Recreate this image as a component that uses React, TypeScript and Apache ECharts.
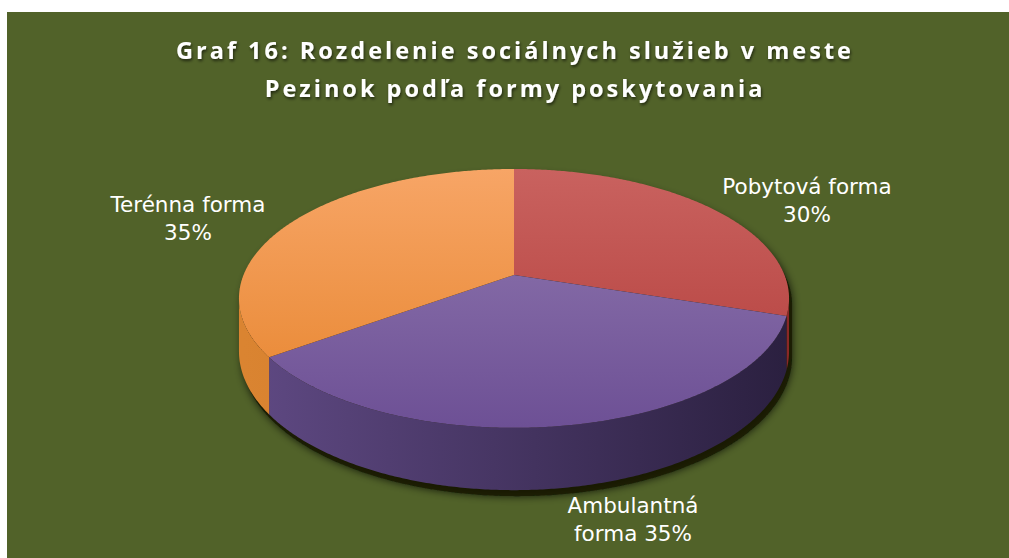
import React, { useEffect, useRef } from "react";
import * as echarts from "echarts";

// ---- data ----
const categories = ["Pobytová forma", "Ambulantná forma", "Terénna forma"];
const values = [30, 35, 35];
const labelLines = [
  ["Pobytová forma", "{p}%"],
  ["Ambulantná", "forma {p}%"],
  ["Terénna forma", "{p}%"],
];
const titleLines = [
  "Graf 16: Rozdelenie sociálnych služieb v meste",
  "Pezinok podľa formy poskytovania",
];

// ---- layout / style ----
const W = 1009;
const H = 558;
const BG = "#516229";
const CX = 514;
const CY = 275;
const RX = 270.5;
const RY = 125.2;
const P = 0.181;
const DEPTH = 51;
const topColors = [
  ["#C9625F", "#B23C39"],
  ["#9179B0", "#6D5095"],
  ["#F7A566", "#E6842C"],
];
const sideColors = [
  ["#A33532", "#8A2826"],
  ["#5F4983", "#2B2040"],
  ["#DA8431", "#C26E22"],
];
const labelPos = [
  [807, 200],
  [633, 519],
  [188, 218],
];

function proj(t: number, d: number): number[] {
  const u = Math.sin(t);
  const v = -Math.cos(t);
  const s = 1 / (1 - P * v);
  return [CX + RX * u * s, CY + RY * v * s + d * s];
}

function arc(a: number, b: number, d: number): number[][] {
  const pts: number[][] = [];
  const n = Math.max(2, Math.ceil(Math.abs(b - a) / (Math.PI / 360)));
  for (let k = 0; k <= n; k++) pts.push(proj(a + ((b - a) * k) / n, d));
  return pts;
}

const VIS_MIN = Math.acos(-P);
const VIS_MAX = 2 * Math.PI - VIS_MIN;

export default function App() {
  const ref = useRef<HTMLDivElement>(null);
  useEffect(() => {
    document.body.style.margin = "0";
    if (!ref.current) return;
    const chart = echarts.init(ref.current, undefined, { renderer: "svg" });
    const total = values.reduce((s, v) => s + v, 0);
    const cum: number[] = [];
    let acc = 0;
    values.forEach((v) => {
      cum.push(acc);
      acc += v;
    });

    const topY0 = CY - RY / (1 + P);
    const topY1 = CY + RY / (1 - P);

    const renderItem = (params: any, api: any) => {
      const i = params.dataIndex;
      const val = api.value(0);
      const a = (cum[i] / total) * Math.PI * 2;
      const b = ((cum[i] + val) / total) * Math.PI * 2;
      const children: any[] = [];

      if (i === 0) {
        // drop shadow of the whole pie
        const top = arc(VIS_MAX - 2 * Math.PI, VIS_MIN, 0);
        const bottom = arc(VIS_MIN, VIS_MAX, DEPTH);
        children.push({
          type: "polygon",
          z2: -10,
          x: 3,
          y: 6,
          shape: { points: [...top, ...bottom] },
          style: {
            fill: "rgba(20,25,5,0.85)",
            shadowBlur: 8,
            shadowColor: "rgba(10,15,0,0.9)",
          },
        });
      }

      // side wall (visible front part)
      const sa = Math.max(a, VIS_MIN);
      const sb = Math.min(b, VIS_MAX);
      if (sb > sa) {
        const topArc = arc(sa, sb, 0);
        const botArc = arc(sa, sb, DEPTH).reverse();
        children.push({
          type: "polygon",
          z2: 1,
          shape: { points: [...topArc, ...botArc] },
          style: {
            fill: new echarts.graphic.LinearGradient(
              CX - RX,
              0,
              CX + RX,
              0,
              [
                { offset: 0, color: sideColors[i][0] },
                { offset: 1, color: sideColors[i][1] },
              ],
              true
            ),
          },
        });
      }

      // top face
      children.push({
        type: "polygon",
        z2: 5,
        shape: { points: [[CX, CY], ...arc(a, b, 0)] },
        style: {
          fill: new echarts.graphic.LinearGradient(
            0,
            topY0,
            0,
            topY1,
            [
              { offset: 0, color: topColors[i][0] },
              { offset: 1, color: topColors[i][1] },
            ],
            true
          ),
        },
      });

      const pct = Math.round((val / total) * 100);
      const text = labelLines[i].map((l) => l.replace("{p}", String(pct))).join("\n");
      children.push({
        type: "text",
        z2: 20,
        x: labelPos[i][0],
        y: labelPos[i][1],
        style: {
          text,
          fill: "#ffffff",
          font: '21.5px "DejaVu Sans"',
          align: "center",
          verticalAlign: "middle",
          lineHeight: 28,
        },
      });
      return { type: "group", children };
    };

    chart.setOption({
      animation: false,
      graphic: [
        {
          type: "rect",
          z: -10,
          shape: { x: 7, y: 12, width: W - 7, height: H - 12 },
          style: { fill: BG },
        },
        {
          type: "text",
          x: 515,
          y: 69,
          z: 10,
          style: {
            text: titleLines.join("\n"),
            fill: "#ffffff",
            font: 'bold 23.5px "Open Sans"',
            align: "center",
            verticalAlign: "middle",
            lineHeight: 38,
            textShadowColor: "rgba(0,0,0,0.6)",
            textShadowBlur: 3,
            textShadowOffsetX: 1,
            textShadowOffsetY: 2,
          },
        },
      ],
      series: [
        {
          type: "custom",
          coordinateSystem: "none",
          name: "Formy",
          data: values.map((v, i) => ({ name: categories[i], value: [v] })),
          renderItem,
        },
      ],
    });
    return () => chart.dispose();
  }, []);
  return (
    <>
      <style>{`#pie-chart text[style*="Open Sans"]{letter-spacing:3px}`}</style>
      <div id="pie-chart" ref={ref} style={{ width: W, height: H, background: "#ffffff" }} />
    </>
  );
}
